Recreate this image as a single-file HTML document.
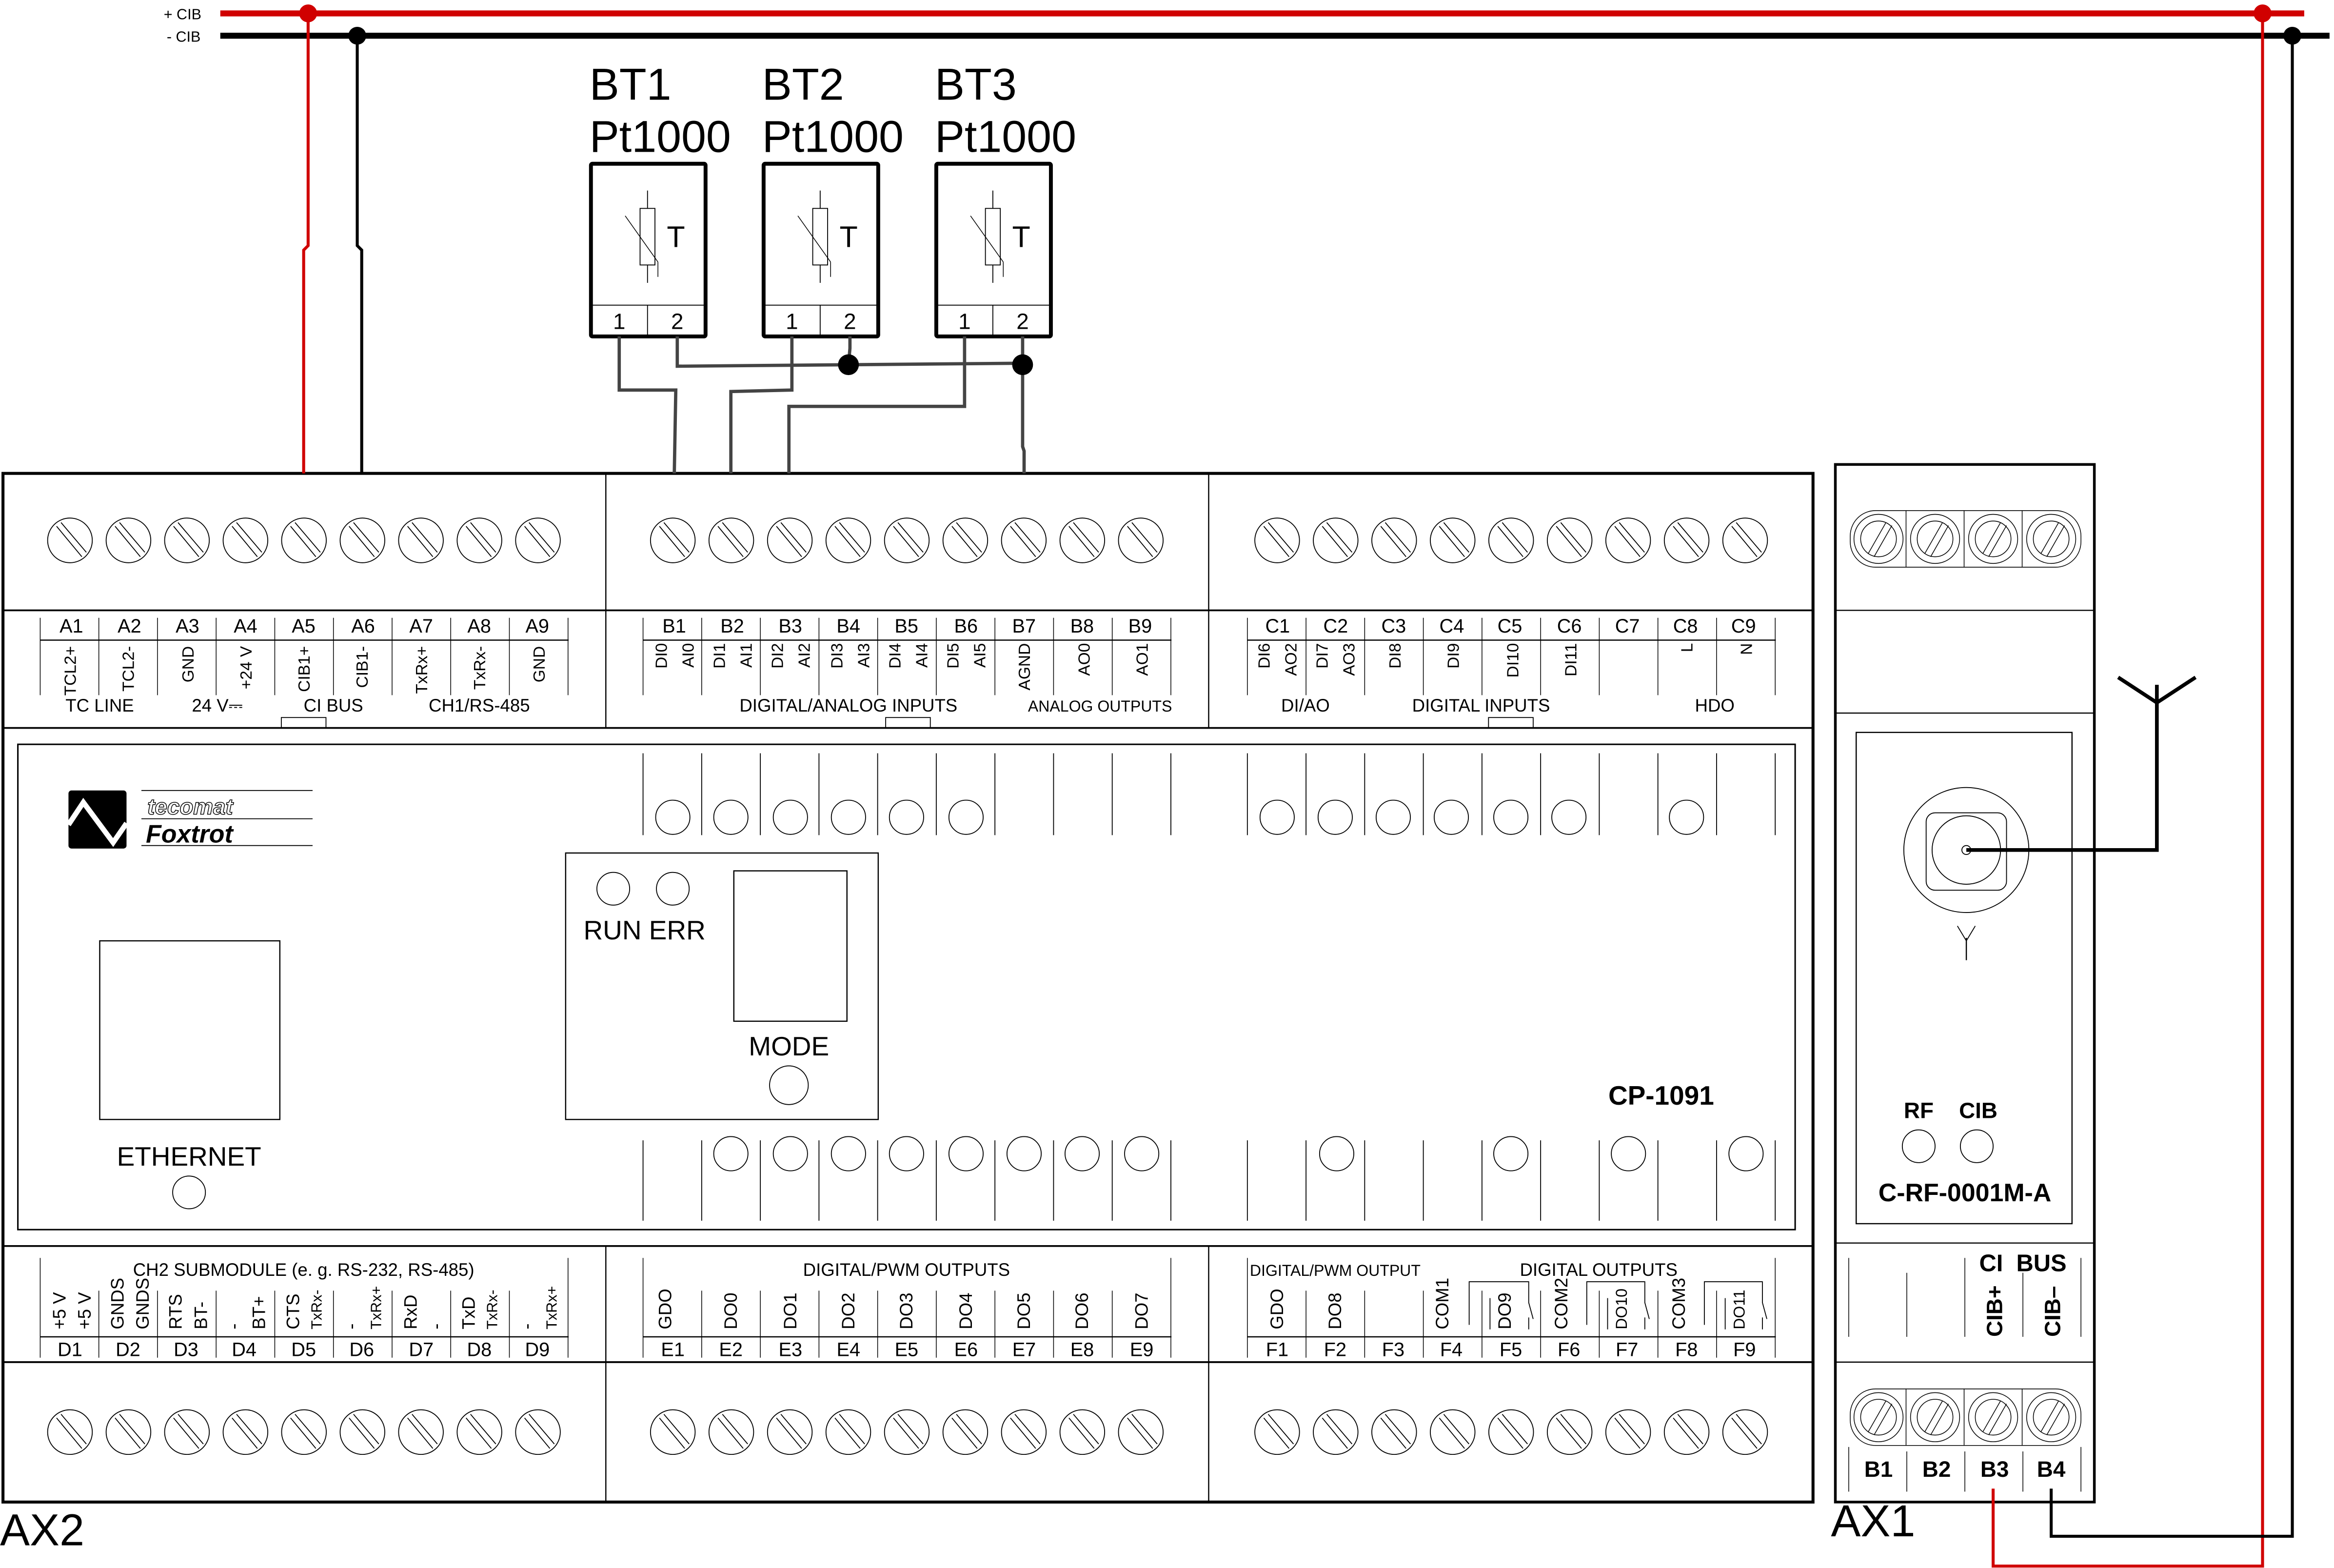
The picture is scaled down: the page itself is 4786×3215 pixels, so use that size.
<!DOCTYPE html>
<html><head><meta charset="utf-8"><style>
html,body{margin:0;padding:0;background:#fff}
svg{display:block}
text{font-family:"Liberation Sans",sans-serif;fill:#000}
.s{font-size:12px}
.r{font-size:11px}
.m{font-size:13px}
.b{font-weight:bold}
</style></head><body>
<svg id="sv" xmlns="http://www.w3.org/2000/svg" width="4786" height="3215" viewBox="0 0 1568 1053.3" preserveAspectRatio="none">
<rect x="0" y="0" width="1568" height="1054" fill="#fff"/>
<g id="g" fill="none" stroke="#000" stroke-width="0.6"></g>

<line x1="148" y1="9" x2="1548" y2="9" stroke="#d00000" stroke-width="4"/>
<line x1="148" y1="24" x2="1565" y2="24" stroke="#000" stroke-width="4"/>
<text x="110" y="13" style="font-size:10px">+ CIB</text>
<text x="112" y="28" style="font-size:10px">- CIB</text>
<polyline points="207,9 207,165 204,168 204,318" fill="none" stroke="#d00000" stroke-width="2"/>
<polyline points="240,24 240,165 243,168 243,318" fill="none" stroke="#000" stroke-width="2"/>
<circle cx="207" cy="9" r="6" fill="#d00000"/>
<circle cx="240" cy="24" r="6" fill="#000"/>
<polyline points="1520,9 1520,1052 1339,1052 1339,1000" fill="none" stroke="#d00000" stroke-width="2"/>
<polyline points="1540,24 1540,1032 1378,1032 1378,1000" fill="none" stroke="#000" stroke-width="2"/>
<circle cx="1520" cy="9" r="6" fill="#d00000"/>
<circle cx="1540" cy="24" r="6" fill="#000"/>

<text x="396" y="67" style="font-size:30px">BT1</text><text x="396" y="102" style="font-size:30px">Pt1000</text>
<text x="512" y="67" style="font-size:30px">BT2</text><text x="512" y="102" style="font-size:30px">Pt1000</text>
<text x="628" y="67" style="font-size:30px">BT3</text><text x="628" y="102" style="font-size:30px">Pt1000</text>
<g style="font-size:20px">
<text x="448" y="166">T</text><text x="564" y="166">T</text><text x="680" y="166">T</text>
</g>
<g style="font-size:15px" text-anchor="middle">
<text x="416" y="221">1</text><text x="455" y="221">2</text>
<text x="532" y="221">1</text><text x="571" y="221">2</text>
<text x="648" y="221">1</text><text x="687" y="221">2</text>
</g>
<g fill="none" stroke="#444" stroke-width="2.2">
<polyline points="416,226 416,262 454,262 453,318"/>
<polyline points="455,226 455,246 687,244"/>
<polyline points="571,226 571,234 570,245"/>
<polyline points="532,226 532,262 491,263 491,318"/>
<polyline points="648,226 648,273 530,273 530,318"/>
<polyline points="687,226 687,300 688,303 688,318"/>
</g>
<circle cx="570" cy="245" r="7" fill="#000"/>
<circle cx="687" cy="245" r="7" fill="#000"/>

<text x="0" y="1038" style="font-size:30px">AX2</text>
<text x="1230" y="1032" style="font-size:30px">AX1</text>

<g class="m">
<text x="40" y="425">A1</text><text x="79" y="425">A2</text><text x="118" y="425">A3</text><text x="157" y="425">A4</text><text x="196" y="425">A5</text><text x="236" y="425">A6</text><text x="275" y="425">A7</text><text x="314" y="425">A8</text><text x="353" y="425">A9</text>
<text x="445" y="425">B1</text><text x="484" y="425">B2</text><text x="523" y="425">B3</text><text x="562" y="425">B4</text><text x="601" y="425">B5</text><text x="641" y="425">B6</text><text x="680" y="425">B7</text><text x="719" y="425">B8</text><text x="758" y="425">B9</text>
<text x="850" y="425">C1</text><text x="889" y="425">C2</text><text x="928" y="425">C3</text><text x="967" y="425">C4</text><text x="1006" y="425">C5</text><text x="1046" y="425">C6</text><text x="1085" y="425">C7</text><text x="1124" y="425">C8</text><text x="1163" y="425">C9</text>
</g>
<g class="r" text-anchor="end">
<text transform="translate(51,434) rotate(-90)">TCL2+</text>
<text transform="translate(90,434) rotate(-90)">TCL2-</text>
<text transform="translate(130,434) rotate(-90)">GND</text>
<text transform="translate(169,434) rotate(-90)">+24 V</text>
<text transform="translate(208,434) rotate(-90)">CIB1+</text>
<text transform="translate(247,434) rotate(-90)">CIB1-</text>
<text transform="translate(287,434) rotate(-90)">TxRx+</text>
<text transform="translate(326,434) rotate(-90)">TxRx-</text>
<text transform="translate(366,434) rotate(-90)">GND</text>
<text transform="translate(448,432) rotate(-90)">DI0</text><text transform="translate(466,432) rotate(-90)">AI0</text>
<text transform="translate(487,432) rotate(-90)">DI1</text><text transform="translate(505,432) rotate(-90)">AI1</text>
<text transform="translate(526,432) rotate(-90)">DI2</text><text transform="translate(544,432) rotate(-90)">AI2</text>
<text transform="translate(566,432) rotate(-90)">DI3</text><text transform="translate(584,432) rotate(-90)">AI3</text>
<text transform="translate(605,432) rotate(-90)">DI4</text><text transform="translate(623,432) rotate(-90)">AI4</text>
<text transform="translate(644,432) rotate(-90)">DI5</text><text transform="translate(662,432) rotate(-90)">AI5</text>
<text transform="translate(692,432) rotate(-90)">AGND</text>
<text transform="translate(732,432) rotate(-90)">AO0</text>
<text transform="translate(771,432) rotate(-90)">AO1</text>
<text transform="translate(853,432) rotate(-90)">DI6</text><text transform="translate(871,432) rotate(-90)">AO2</text>
<text transform="translate(892,432) rotate(-90)">DI7</text><text transform="translate(910,432) rotate(-90)">AO3</text>
<text transform="translate(941,432) rotate(-90)">DI8</text>
<text transform="translate(980,432) rotate(-90)">DI9</text>
<text transform="translate(1020,432) rotate(-90)">DI10</text>
<text transform="translate(1059,432) rotate(-90)">DI11</text>
<text transform="translate(1137,432) rotate(-90)">L</text>
<text transform="translate(1177,432) rotate(-90)">N</text>
</g>
<g class="s" text-anchor="middle">
<text x="67" y="478">TC LINE</text><text x="146" y="478">24 V⎓</text><text x="224" y="478">CI BUS</text><text x="322" y="478">CH1/RS-485</text>
<text x="570" y="478">DIGITAL/ANALOG INPUTS</text><text x="739" y="478" style="font-size:10.5px">ANALOG OUTPUTS</text>
<text x="877" y="478">DI/AO</text><text x="995" y="478">DIGITAL INPUTS</text><text x="1152" y="478">HDO</text>
</g>

<g class="s" text-anchor="middle">
<text x="204" y="857">CH2 SUBMODULE (e. g. RS-232, RS-485)</text>
<text x="609" y="857">DIGITAL/PWM OUTPUTS</text>
<text x="897" y="857" style="font-size:10.5px">DIGITAL/PWM OUTPUT</text>
<text x="1074" y="857">DIGITAL OUTPUTS</text>
</g>
<g class="m" text-anchor="middle">
<text x="47" y="911">D1</text><text x="86" y="911">D2</text><text x="125" y="911">D3</text><text x="164" y="911">D4</text><text x="204" y="911">D5</text><text x="243" y="911">D6</text><text x="283" y="911">D7</text><text x="322" y="911">D8</text><text x="361" y="911">D9</text>
<text x="452" y="911">E1</text><text x="491" y="911">E2</text><text x="531" y="911">E3</text><text x="570" y="911">E4</text><text x="609" y="911">E5</text><text x="649" y="911">E6</text><text x="688" y="911">E7</text><text x="727" y="911">E8</text><text x="767" y="911">E9</text>
<text x="858" y="911">F1</text><text x="897" y="911">F2</text><text x="936" y="911">F3</text><text x="975" y="911">F4</text><text x="1015" y="911">F5</text><text x="1054" y="911">F6</text><text x="1093" y="911">F7</text><text x="1133" y="911">F8</text><text x="1172" y="911">F9</text>
</g>
<g class="s">
<text transform="translate(44,893) rotate(-90)">+5 V</text><text transform="translate(61,893) rotate(-90)">+5 V</text>
<text transform="translate(83,893) rotate(-90)">GNDS</text><text transform="translate(100,893) rotate(-90)">GNDS</text>
<text transform="translate(122,893) rotate(-90)">RTS</text><text transform="translate(139,893) rotate(-90)">BT-</text>
<text transform="translate(161,893) rotate(-90)">-</text><text transform="translate(178,893) rotate(-90)">BT+</text>
<text transform="translate(201,893) rotate(-90)">CTS</text><text transform="translate(216,893) rotate(-90)" style="font-size:10px">TxRx-</text>
<text transform="translate(240,893) rotate(-90)">-</text><text transform="translate(256,893) rotate(-90)" style="font-size:10px">TxRx+</text>
<text transform="translate(280,893) rotate(-90)">RxD</text><text transform="translate(297,893) rotate(-90)">-</text>
<text transform="translate(319,893) rotate(-90)">TxD</text><text transform="translate(334,893) rotate(-90)" style="font-size:10px">TxRx-</text>
<text transform="translate(358,893) rotate(-90)">-</text><text transform="translate(374,893) rotate(-90)" style="font-size:10px">TxRx+</text>
<text transform="translate(451,893) rotate(-90)">GDO</text>
<text transform="translate(495,893) rotate(-90)">DO0</text><text transform="translate(535,893) rotate(-90)">DO1</text><text transform="translate(574,893) rotate(-90)">DO2</text><text transform="translate(613,893) rotate(-90)">DO3</text><text transform="translate(653,893) rotate(-90)">DO4</text><text transform="translate(692,893) rotate(-90)">DO5</text><text transform="translate(731,893) rotate(-90)">DO6</text><text transform="translate(771,893) rotate(-90)">DO7</text>
<text transform="translate(862,893) rotate(-90)">GDO</text>
<text transform="translate(901,893) rotate(-90)">DO8</text>
<text transform="translate(973,893) rotate(-90)">COM1</text>
<text transform="translate(1015,893) rotate(-90)">DO9</text>
<text transform="translate(1053,893) rotate(-90)">COM2</text>
<text transform="translate(1093,893) rotate(-90)" style="font-size:10.5px">DO10</text>
<text transform="translate(1132,893) rotate(-90)">COM3</text>
<text transform="translate(1172,893) rotate(-90)" style="font-size:10.5px">DO11</text>
</g>

<text x="433" y="631" text-anchor="middle" style="font-size:18px">RUN ERR</text>
<text x="530" y="709" text-anchor="middle" style="font-size:18px">MODE</text>
<text x="127" y="783" text-anchor="middle" style="font-size:18px">ETHERNET</text>
<text x="1116" y="742" text-anchor="middle" class="b" style="font-size:18px">CP-1091</text>

<rect x="46" y="531" width="39" height="39" rx="2" fill="#000"/>
<polyline points="46,554 56,539 76,566 85,553" fill="none" stroke="#fff" stroke-width="3.5"/>
<g stroke="#000" stroke-width="0.6"><line x1="95" y1="531" x2="210" y2="531"/><line x1="95" y1="550" x2="210" y2="550"/><line x1="95" y1="568" x2="210" y2="568"/></g>
<text x="99" y="547" style="font-size:15px;font-style:italic;font-weight:bold;fill:#fff;stroke:#000;stroke-width:0.5">tecomat</text>
<text x="98" y="566" style="font-size:17px;font-style:italic;font-weight:bold">Foxtrot</text>

<text x="1289" y="751" text-anchor="middle" class="b" style="font-size:15px">RF</text>
<text x="1329" y="751" text-anchor="middle" class="b" style="font-size:15px">CIB</text>
<text x="1320" y="807" text-anchor="middle" class="b" style="font-size:17px">C-RF-0001M-A</text>
<text x="1359" y="854" text-anchor="middle" class="b" style="font-size:16px">CI&#160;&#160;BUS</text>
<text transform="translate(1345,898) rotate(-90)" class="b" style="font-size:15px">CIB+</text>
<text transform="translate(1384,898) rotate(-90)" class="b" style="font-size:15px">CIB–</text>
<g class="b" style="font-size:15px" text-anchor="middle">
<text x="1262" y="992">B1</text><text x="1301" y="992">B2</text><text x="1340" y="992">B3</text><text x="1378" y="992">B4</text>
</g>
<polyline points="1321,571 1449,571 1449,460" fill="none" stroke="#000" stroke-width="2.5"/>
<polyline points="1423,455 1449,472 1475,455" fill="none" stroke="#000" stroke-width="2.5"/>
</svg>
<script>
(function(){
var g=document.getElementById('g'),NS='http://www.w3.org/2000/svg';
function el(t,a){var e=document.createElementNS(NS,t);for(var k in a)e.setAttribute(k,a[k]);g.appendChild(e);return e;}
function L(x1,y1,x2,y2,w){el('line',{x1:x1,y1:y1,x2:x2,y2:y2,'stroke-width':w||0.6});}
function C(x,y,r,w){el('circle',{cx:x,cy:y,r:r,'stroke-width':w||0.6});}
function R(x,y,w,h,sw,rx){el('rect',{x:x,y:y,width:w,height:h,'stroke-width':sw||0.6,rx:rx||0});}
R(2,318,1216,691,2);
L(2,410,1218,410,1.2);L(2,489,1218,489,1.2);L(2,837,1218,837,1.2);L(2,915,1218,915,1.2);
L(407,318,407,489,0.8);L(812,318,812,489,0.8);L(407,837,407,1009,0.8);L(812,837,812,1009,0.8);
R(12,500,1194,326,1);
var xs=[];[47,452,858].forEach(function(x0){for(var i=0;i<9;i++)xs.push(x0+i*39.3);});
xs.forEach(function(x){
 [363,962].forEach(function(y){C(x,y,15,0.6);
  L(x-9,y-9.5,x+8,y+11,0.6);L(x-6,y-12,x+11,y+8,0.6);});
});
[27,432,838].forEach(function(x0){
 L(x0,430,x0+355,430,0.8);L(x0,898,x0+355,898,0.8);
 for(var i=0;i<=9;i++){var x=x0+i*39.4;
  L(x,415,x,467,0.5);
  var full=(i==0||i==9);L(x,full?845:867,x,912,0.5);}
});
[[189,482],[595,482],[1000,482]].forEach(function(t){R(t[0],t[1],30,7,0.6);});
[432,838].forEach(function(x0){for(var i=0;i<=9;i++){var x=x0+i*39.4;L(x,506,x,561,0.6);L(x,766,x,820,0.6);}});
[452,491,531,570,609,649,858,897,936,975,1015,1054,1133].forEach(function(x){C(x,549,11.5);});
[491,531,570,609,649,688,727,767,898,1015,1094,1173].forEach(function(x){C(x,775,11.5);});
[[975,1015],[1054,1093],[1133,1172]].forEach(function(p){
 el('polyline',{points:(p[0]+12)+',890 '+(p[0]+12)+',861 '+(p[1]+12)+',861 '+(p[1]+12)+',875 '+(p[1]+15)+',886','stroke-width':0.6});
 L(p[1]+12,885,p[1]+12,893,0.6);L(p[0]+26,872,p[0]+26,893,0.6);
});
R(67,632,121,120,0.8);C(127,801,11);
R(380,573,210,179,0.8);C(412,597,11);C(452,597,11);R(493,585,76,101,0.8);C(530,729,13);
[397,513,629].forEach(function(x){
 R(x,110,77,116,2.6,1);L(x,205,x+77,205,0.6);L(x+38,205,x+38,226,0.6);
 var cx=x+38;R(cx-5,140,10,38,0.6);L(cx,128,cx,140,0.6);L(cx,178,cx,190,0.6);
 L(cx-15,145,cx+7,176,0.5);L(cx+7,176,cx+7,186,0.5);
});
R(1233,312,174,697,1.8);
L(1233,410,1407,410,0.8);L(1233,479,1407,479,0.8);L(1233,835,1407,835,0.8);L(1233,915,1407,915,0.8);
R(1247,492,145,330,0.8);
R(1243,343,155,38,0.5,17);R(1243,933,155,38,0.5,17);
[1262,1300,1339,1378].forEach(function(x,i){
 [362,952].forEach(function(y){C(x,y,16.5,0.5);C(x,y,12,0.5);L(x-7,y+10,x+5,y-11,0.5);L(x-3,y+12,x+9,y-9,0.5);});
 if(i>0){L(x-19.5,343,x-19.5,381,0.5);L(x-19.5,933,x-19.5,971,0.5);}
});
[1242,1281,1320,1359,1398].forEach(function(x,i){L(x,(i==0||i==2||i==4)?845:855,x,898,0.5);L(x,(i==0||i==4)?972:975,x,1002,0.5);});
C(1321,571,42,0.6);R(1294,546,54,52,0.6,6);C(1321,571,23,0.6);C(1321,571,3,0.6);
L(1321,630,1321,645,0.8);L(1315,622,1321,632,0.6);L(1327,622,1321,632,0.6);
C(1289,770,11);C(1328,770,11);
})();
</script>
</body></html>
